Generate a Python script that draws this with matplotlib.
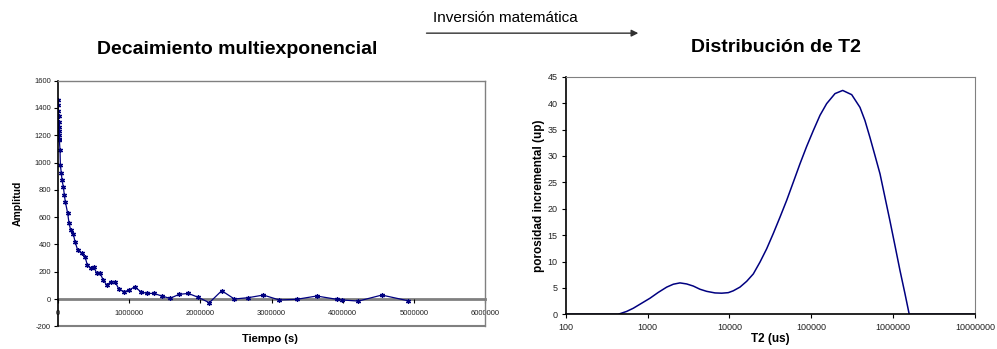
import numpy as np
import matplotlib
matplotlib.use('Agg')
import matplotlib.pyplot as plt
from matplotlib.ticker import FixedLocator, FuncFormatter

plt.rcParams['font.family'] = ['Liberation Sans', 'DejaVu Sans']
plt.rcParams['axes.unicode_minus'] = False

# decaimiento (tiempo en s, amplitud)
tiempo = [0, 3000, 5000, 7000, 8000, 10000, 12000, 14000, 17000, 19000, 28000,
          33000, 47000, 56000, 75000, 89000, 103000, 136000, 155000, 178000,
          215000, 239000, 276000, 333000, 379000, 412000, 459000, 506000,
          543000, 590000, 637000, 684000, 745000, 801000, 857000, 932000,
          1002000, 1077000, 1162000, 1246000, 1349000, 1457000, 1574000,
          1700000, 1831000, 1972000, 2126000, 2300000, 2478000, 2674000,
          2885000, 3110000, 3354000, 3635000, 3916000, 3995000, 4220000,
          4549000, 4913000]
amplitud = [1457, 1420, 1380, 1340, 1300, 1260, 1230, 1200, 1170, 1164, 1090,
            981, 920, 871, 822, 761, 712, 627, 554, 505,
            476, 420, 359, 334, 310, 249, 224, 232,
            188, 188, 139, 102, 127, 127, 71, 54,
            66, 90, 54, 41, 41, 22, 5,
            34, 41, 12, -27, 61, 0, 10,
            29, -7, -2, 22, -2, -7, -15,
            29, -12]

# distribucion de T2: log10(T2 en us), porosidad incremental
log_t2 = [2.0, 2.3, 2.64, 2.745, 2.826, 2.928, 3.03, 3.131, 3.234, 3.315,
          3.396, 3.478, 3.559, 3.64, 3.722, 3.824, 3.906, 3.986, 4.047, 4.129,
          4.211, 4.292, 4.374, 4.455, 4.536, 4.618, 4.70, 4.78, 4.862, 4.944,
          5.025, 5.107, 5.188, 5.29, 5.384, 5.494, 5.595, 5.656, 5.717, 5.778,
          5.84, 5.90, 5.96, 6.023, 6.084, 6.145, 6.197, 6.5, 7.0]
porosidad = [0, 0, 0, 0.55, 1.15, 2.1, 3.05, 4.15, 5.15, 5.7,
             5.95, 5.75, 5.35, 4.75, 4.35, 4.05, 4.0, 4.1, 4.45, 5.15,
             6.25, 7.65, 9.9, 12.4, 15.3, 18.4, 21.6, 25.0, 28.5, 31.8,
             34.8, 37.7, 39.9, 41.8, 42.4, 41.6, 39.2, 36.7, 33.5, 30.1,
             26.6, 22.2, 17.8, 13.0, 8.3, 3.9, 0, 0, 0]

navy = '#000080'
gris = '#808080'

fig = plt.figure(figsize=(9.97, 3.49), dpi=100)

# ---- izquierda: decaimiento ----
ax1 = fig.add_axes([0.0582, 0.065, 0.4283, 0.7038])
ax1.plot(tiempo, amplitud, color=navy, lw=0.9, marker=(6, 2, 0), ms=3.6,
         mew=0.9, mec=navy)
ax1.set_xlim(0, 6000000)
ax1.set_ylim(-200, 1600)
ax1.set_xticks(np.arange(0, 6000001, 1000000))
ax1.set_yticks(np.arange(-200, 1601, 200))
ax1.xaxis.set_major_formatter(FuncFormatter(lambda v, p: '%d' % v))
ax1.spines['bottom'].set_position(('data', 0))
ax1.spines['bottom'].set_color(gris)
ax1.spines['bottom'].set_linewidth(2)
ax1.spines['bottom'].set_zorder(1)
for s in ['top', 'right']:
    ax1.spines[s].set_color(gris)
    ax1.spines[s].set_linewidth(1)
ax1.spines['left'].set_linewidth(1.2)
ax1.axhline(-200, color=gris, lw=1.5, clip_on=False)
ax1.tick_params(axis='both', labelsize=5.5, length=3, width=0.8, colors='black',
                labelcolor='#222222', pad=2)
ax1.tick_params(axis='x', pad=5)
ax1.set_ylabel('Amplitud', fontsize=7.5, fontweight='bold', labelpad=8)
fig.text(0.271, 0.029, 'Tiempo (s)', ha='center', va='center',
         fontsize=8, fontweight='bold')

# ---- derecha: distribucion T2 ----
t2 = 10 ** np.array(log_t2)
ax2 = fig.add_axes([0.5674, 0.0994, 0.4105, 0.6808])
ax2.plot(t2, porosidad, color=navy, lw=1.1)
ax2.set_xscale('log')
ax2.set_xlim(100, 10000000)
ax2.set_ylim(0, 45)
ax2.xaxis.set_major_locator(FixedLocator([1e2, 1e3, 1e4, 1e5, 1e6, 1e7]))
ax2.xaxis.set_minor_locator(FixedLocator([]))
ax2.xaxis.set_major_formatter(FuncFormatter(lambda v, p: '%d' % round(v)))
ax2.set_yticks(np.arange(0, 46, 5))
for s in ['top', 'right']:
    ax2.spines[s].set_color(gris)
ax2.spines['left'].set_linewidth(1.2)
ax2.spines['bottom'].set_linewidth(1.2)
ax2.tick_params(axis='both', labelsize=6.5, length=3, width=0.8,
                labelcolor='#222222', pad=3)
ax2.set_ylabel('porosidad incremental (up)', fontsize=8.5, fontweight='bold',
               labelpad=2)
ax2.set_xlabel('T2 (us)', fontsize=8.5, fontweight='bold', labelpad=1)

# ---- titulos y flecha ----
fig.text(0.238, 0.857, 'Decaimiento multiexponencial', ha='center', va='center',
         fontsize=14, fontweight='bold')
fig.text(0.778, 0.865, 'Distribución de T2', ha='center', va='center',
         fontsize=14, fontweight='bold')
fig.text(0.507, 0.948, 'Inversión matemática', ha='center', va='center',
         fontsize=11)
fig.patches.append(matplotlib.patches.FancyArrowPatch(
    (0.425, 0.905), (0.643, 0.905), transform=fig.transFigure,
    arrowstyle='-|>', mutation_scale=10, color='#303030', lw=1))

fig.savefig('out.png', dpi=100)
